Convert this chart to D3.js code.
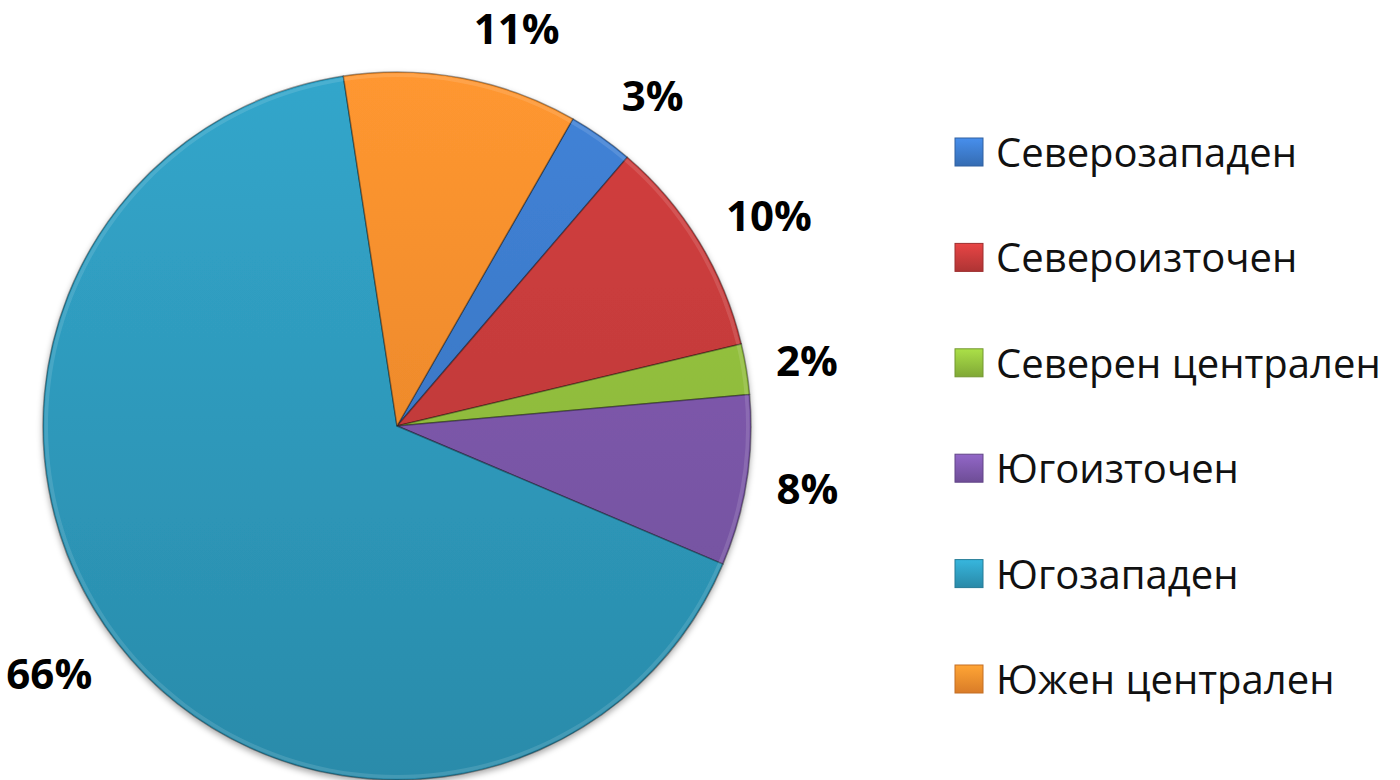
<!DOCTYPE html>
<html>
<head>
<meta charset="utf-8">
<script src="https://cdn.jsdelivr.net/npm/d3@7"></script>
<style>
  body { margin: 0; background: #fff; }
  svg { display: block; }
</style>
</head>
<body>
<div id="chart"></div>
<script>
// regions and their share (percent)
const categories = [
  "Северозападен",
  "Североизточен",
  "Северен централен",
  "Югоизточен",
  "Югозападен",
  "Южен централен",
];
const values = [3.0, 10.0, 2.3, 7.8, 66.2, 10.7];
const colours = ["#3b78c6", "#c23a3a", "#8fbb3c", "#7a56a7", "#2e98ba", "#f28a2c"];

const W = 1400,
  H = 780;
const cx = 397,
  cy = 426,
  r = 354;
const startDeg = 29.8;

const svg = d3
  .select("#chart")
  .append("svg")
  .attr("width", W)
  .attr("height", H);

const defs = svg.append("defs");

// soft shadow under the pie
const shadow = defs.append("filter").attr("id", "shadow")
  .attr("x", "-10%").attr("y", "-10%").attr("width", "120%").attr("height", "120%");
shadow.append("feDropShadow")
  .attr("dx", 0).attr("dy", 3).attr("stdDeviation", 3)
  .attr("flood-color", "#000").attr("flood-opacity", 0.35);

// vertical gradient per colour, lighter on top
colours.forEach((c, i) => {
  const g = defs.append("linearGradient")
    .attr("id", "grad" + i)
    .attr("gradientUnits", "userSpaceOnUse")
    .attr("x1", 0).attr("y1", -r).attr("x2", 0).attr("y2", r);
  g.append("stop").attr("offset", "0%").attr("stop-color", d3.color(c).brighter(0.25));
  g.append("stop").attr("offset", "100%").attr("stop-color", d3.color(c).darker(0.25));

  const lg = defs.append("linearGradient")
    .attr("id", "lgrad" + i)
    .attr("x1", 0).attr("y1", 0).attr("x2", 0).attr("y2", 1);
  lg.append("stop").attr("offset", "0%").attr("stop-color", d3.color(c).brighter(0.5));
  lg.append("stop").attr("offset", "100%").attr("stop-color", d3.color(c).darker(0.3));
});

const data = categories.map((name, i) => ({ name, value: values[i], i }));

const start = (startDeg * Math.PI) / 180;
const pieLayout = d3.pie()
  .value((d) => d.value)
  .sort(null)
  .startAngle(start)
  .endAngle(start + 2 * Math.PI);

const arcs = pieLayout(data);
const arcGen = d3.arc().innerRadius(0).outerRadius(r);

const g = svg.append("g").attr("transform", `translate(${cx},${cy})`);

g.append("g")
  .attr("filter", "url(#shadow)")
  .selectAll("path")
  .data(arcs)
  .enter()
  .append("path")
  .attr("d", arcGen)
  .attr("fill", (d) => `url(#grad${d.data.i})`)
  .attr("stroke", "rgba(0,0,0,0.35)")
  .attr("stroke-width", 1.5)
  .attr("stroke-linejoin", "round");

// inner highlight rim for a bevel look
g.selectAll(".rim")
  .data(arcs)
  .enter()
  .append("path")
  .attr("class", "rim")
  .attr("d", d3.arc().innerRadius(r - 5).outerRadius(r - 1.5))
  .attr("fill", "rgba(255,255,255,0.12)");

// outside labels
const labelR = r + 22;
g.selectAll(".pct")
  .data(arcs)
  .enter()
  .append("text")
  .attr("class", "pct")
  .each(function (d) {
    const a = (d.startAngle + d.endAngle) / 2;
    const px = Math.sin(a) * labelR;
    const py = -Math.cos(a) * labelR;
    const right = Math.sin(a) >= 0;
    d3.select(this)
      .attr("x", right ? px + 8 : px - 8)
      .attr("y", py - Math.cos(a) * 28 + 15)
      .attr("text-anchor", right ? "start" : "end");
  })
  .attr("font-family", "'Open Sans', 'Noto Sans', sans-serif")
  .attr("font-weight", "bold")
  .attr("font-size", 42)
  .attr("fill", "#000")
  .text((d) => Math.round(d.data.value) + "%");

// legend
const legend = svg.append("g").attr("transform", "translate(955,152)");
const rowH = 105.4;
const rows = legend
  .selectAll(".legend")
  .data(data)
  .enter()
  .append("g")
  .attr("class", "legend")
  .attr("transform", (d, i) => `translate(0,${i * rowH})`);

rows.append("rect")
  .attr("x", 0)
  .attr("y", -14)
  .attr("width", 28)
  .attr("height", 28)
  .attr("fill", (d) => `url(#lgrad${d.i})`)
  .attr("stroke", (d) => d3.color(colours[d.i]).darker(0.6))
  .attr("stroke-width", 1);

rows.append("text")
  .attr("x", 41)
  .attr("y", 15)
  .attr("font-family", "'Open Sans', 'Noto Sans', sans-serif")
  .attr("font-size", 40)
  .attr("fill", "#111")
  .text((d) => d.name);
</script>
</body>
</html>
